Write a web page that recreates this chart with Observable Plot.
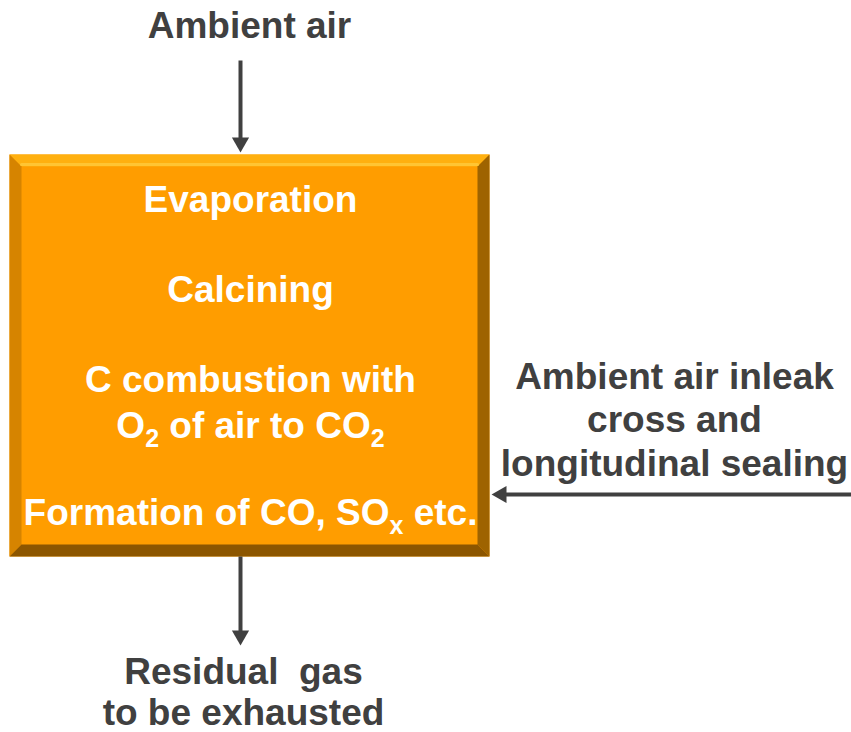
<!DOCTYPE html>
<html>
<head>
<meta charset="utf-8">
<script src="https://cdn.jsdelivr.net/npm/d3@7"></script>
<script src="https://cdn.jsdelivr.net/npm/@observablehq/plot@0.6"></script>
<style>
  html, body { margin: 0; padding: 0; background: #ffffff; }
  #chart svg { display: block; }
</style>
</head>
<body>
<div id="chart"></div>
<script>
// ---- Diagram data ----
const boxLabels = ["Evaporation", "Calcining", "C combustion with", "O_2 of air to CO_2", "Formation of CO, SO_x etc."];
const boxLabelY = [200, 290, 380, 426, 513];
const topLabels = ["Ambient air"];
const topLabelY = [26];
const sideLabels = ["Ambient air inleak", "cross and", "longitudinal sealing"];
const sideLabelY = [377, 420, 464];
const bottomLabels = ["Residual  gas", "to be exhausted"];
const bottomLabelY = [672, 713];

// box extent [x0, x1, y0, y1] and bevel depth
const boxExtent = [9, 489, 154, 556];
const bevel = 12;

// arrows: [x1, y1, x2, y2]
const arrows = [
  [240, 60, 240, 152],
  [240, 556, 240, 645],
  [851, 494, 491, 494]
];

// ---- derived geometry ----
const [bx0, bx1, by0, by1] = boxExtent;
const polys = [
  {name: "face", color: "#FF9D00", pts: [[bx0, by0], [bx1, by0], [bx1, by1], [bx0, by1]]},
  {name: "top", color: "#FFB00F", pts: [[bx0, by0], [bx1, by0], [bx1 - bevel, by0 + bevel], [bx0 + bevel, by0 + bevel]]},
  {name: "left", color: "#D68400", pts: [[bx0, by0], [bx0 + bevel, by0 + bevel], [bx0 + bevel, by1 - bevel], [bx0, by1]]},
  {name: "right", color: "#9E6300", pts: [[bx1, by0], [bx1, by1], [bx1 - bevel, by1 - bevel], [bx1 - bevel, by0 + bevel]]},
  {name: "bottom", color: "#8C5600", pts: [[bx0, by1], [bx1, by1], [bx1 - bevel, by1 - bevel], [bx0 + bevel, by1 - bevel]]}
];
const polyPts = polys.flatMap(p => p.pts.map(([x, y]) => ({name: p.name, color: p.color, x, y})));
const highlight = [{x: bx0 + bevel, y: by0 + bevel - 2}, {x: bx1 - bevel, y: by0 + bevel - 2}];

const shafts = arrows.map(([x1, y1, x2, y2]) => {
  const len = Math.hypot(x2 - x1, y2 - y1), ux = (x2 - x1) / len, uy = (y2 - y1) / len;
  return {x1, y1, x2: x2 - ux * 12, y2: y2 - uy * 12};
});
const heads = arrows.map(([x1, y1, x2, y2]) => {
  const len = Math.hypot(x2 - x1, y2 - y1), ux = (x2 - x1) / len, uy = (y2 - y1) / len;
  const angle = Math.atan2(uy, ux) * 180 / Math.PI + 90;
  return {x: x2 - ux * 10, y: y2 - uy * 10, angle};
});

const textFont = "Liberation Sans, Arial, Helvetica, sans-serif";
const mkText = (labels, ys, x, fill) =>
  Plot.text(labels.map((t, i) => ({t, y: ys[i]})), {
    x: () => x, y: "y", text: "t", fill, fontSize: 37, fontWeight: "bold",
    fontFamily: textFont, textAnchor: "middle"
  });

const chart = Plot.plot({
  width: 851,
  height: 732,
  margin: 0,
  x: {domain: [0, 851], range: [0, 851], axis: null},
  y: {domain: [0, 732], range: [0, 732], axis: null},
  color: {type: "identity"},
  style: {background: "#ffffff"},
  marks: [
    Plot.line(polyPts, {x: "x", y: "y", z: "name", fill: "color", stroke: "none"}),
    Plot.line(highlight, {x: "x", y: "y", stroke: "#FFC533", strokeWidth: 3}),
    Plot.link(shafts, {x1: "x1", y1: "y1", x2: "x2", y2: "y2", stroke: "#404040", strokeWidth: 4}),
    Plot.dot(heads, {x: "x", y: "y", symbol: "triangle", r: 6.4, fill: "#404040", stroke: "none", rotate: "angle"}),
    mkText(topLabels, topLabelY, 249, "#404040"),
    mkText(boxLabels, boxLabelY, 250, "#ffffff"),
    mkText(sideLabels, sideLabelY, 674, "#404040"),
    mkText(bottomLabels, bottomLabelY, 243, "#404040")
  ]
});

// subscripts: "X_2" -> X with subscript tspan
d3.select(chart).selectAll("text").each(function() {
  const txt = this.textContent;
  if (!txt.includes("_")) return;
  const el = d3.select(this);
  el.text(null);
  const parts = txt.split(/_(\w)/);
  let shift = 0;
  parts.forEach((p, i) => {
    if (!p) return;
    if (i % 2 === 1) {
      el.append("tspan").attr("font-size", 25).attr("dy", 9).text(p);
      shift = -9;
    } else {
      const t = el.append("tspan").text(p);
      if (shift) t.attr("dy", shift);
      shift = 0;
    }
  });
});

document.getElementById("chart").appendChild(chart);
</script>
</body>
</html>
